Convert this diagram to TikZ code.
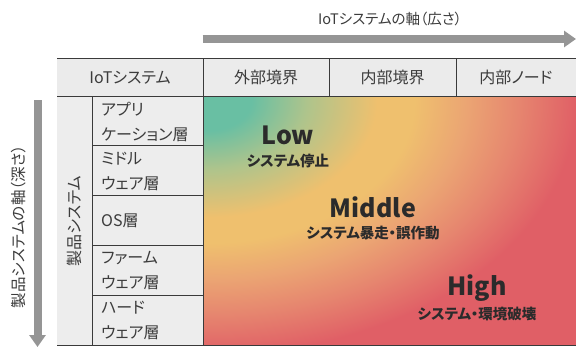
\documentclass[tikz,border=0pt]{standalone}
\usepackage{fontspec}
\setmainfont{Noto Sans CJK JP}[RawFeature=+palt]
\usetikzlibrary{arrows.meta}
\definecolor{linec}{HTML}{3A3A3A}
\definecolor{txt}{HTML}{3C3C3C}
\definecolor{dtxt}{HTML}{2B2B2B}
\definecolor{arrc}{HTML}{959595}
\definecolor{hbg}{HTML}{EBEBEB}
\definecolor{lbg}{HTML}{EDEDED}
\definecolor{cg}{HTML}{69BFA3}
\definecolor{cgy}{HTML}{AEC48C}
\definecolor{cy}{HTML}{EFC06E}
\definecolor{co}{HTML}{EBA573}
\definecolor{cs}{HTML}{E6866F}
\definecolor{cr}{HTML}{E05F66}
\pgfdeclareradialshading{risk}{\pgfpoint{0bp}{0bp}}{color(0bp)=(cg); color(3bp)=(cg); color(6.75bp)=(cgy); color(11.5bp)=(cy); color(14bp)=(cy); color(17.5bp)=(co); color(21bp)=(cs); color(25bp)=(cr); color(50bp)=(cr)}
\begin{document}
\begin{tikzpicture}[x=1bp,y=-1bp,
  hdr/.style={font=\fontsize{16bp}{20bp}\selectfont, text=txt, inner sep=0pt},
  layer/.style={font=\fontsize{16bp}{25bp}\selectfont, text=txt, align=left, anchor=west, inner sep=0pt},
  big/.style={font=\bfseries\fontsize{25bp}{30bp}\selectfont, text=dtxt, inner sep=0pt},
  sub/.style={font=\bfseries\fontsize{14.5bp}{18bp}\selectfont, text=dtxt, inner sep=0pt},
  gridline/.style={draw=linec, line width=1bp},
  fatarrow/.style={draw=arrc, line width=8bp, -{Triangle[length=12bp,width=16bp]}}
]
\useasboundingbox (0,0) rectangle (576,347);
% backgrounds
\fill[hbg] (57,58.5) rectangle (576,96);
\fill[lbg] (57,96) rectangle (203,345);
\fill[cr] (203,96) rectangle (576,345);
\begin{scope}
  \clip (203,96) rectangle (576,345);
  \shade[shading=risk] (207,100) ellipse [x radius=370bp, y radius=255bp];
\end{scope}
% grid lines
\draw[gridline] (57,58.5) -- (576,58.5);
\draw[gridline] (57,96) -- (576,96);
\draw[gridline] (57,345) -- (576,345);
\draw[gridline] (203,58.5) -- (203,345);
\draw[gridline] (329.5,58.5) -- (329.5,96);
\draw[gridline] (456,58.5) -- (456,96);
\draw[gridline] (92,96) -- (92,345);
\foreach \yy in {145.8,195.6,245.4,295.2} \draw[gridline] (92,\yy) -- (203,\yy);
% arrows
\coordinate (ha) at (202.5,39);
\coordinate (hb) at (576,39);
\coordinate (va) at (37.5,100);
\coordinate (vb) at (37.5,347);
\draw[fatarrow] (ha) -- (hb);
\draw[fatarrow] (va) -- (vb);
% axis labels
\node[font=\fontsize{14.5bp}{18bp}\selectfont, text=txt, inner sep=0pt] (haxis) at (390,19) {IoTシステムの軸（広さ）};
\node[font=\fontsize{15.5bp}{18bp}\selectfont, text=txt, inner sep=0pt, rotate=90] (vaxis) at (19,227) {製品システムの軸（深さ）};
% headers
\node[hdr] (h0) at (130,77.5) {IoTシステム};
\node[hdr] (h1) at (266,77.5) {外部境界};
\node[hdr] (h2) at (392.5,77.5) {内部境界};
\node[hdr] (h3) at (516,77.5) {内部ノード};
\node[hdr, rotate=90] (prod) at (74.5,221) {製品システム};
% layers
\node[layer] (l1) at (101,121.5) {アプリ\\ケーション層};
\node[layer] (l2) at (101,171.3) {ミドル\\ウェア層};
\node[layer] (l3) at (101,221) {OS層};
\node[layer] (l4) at (101,270.8) {ファーム\\ウェア層};
\node[layer] (l5) at (101,320.6) {ハード\\ウェア層};
% risk labels
\node[big] (low) at (288,135) {Low};
\node[sub] (lows) at (288,161) {システム停止};
\node[big] (mid) at (373,207) {Middle};
\node[sub] (mids) at (373,233) {システム暴走・誤作動};
\node[big] (high) at (477,288) {High};
\node[sub] (highs) at (477,314) {システム・環境破壊};
\end{tikzpicture}
\end{document}
